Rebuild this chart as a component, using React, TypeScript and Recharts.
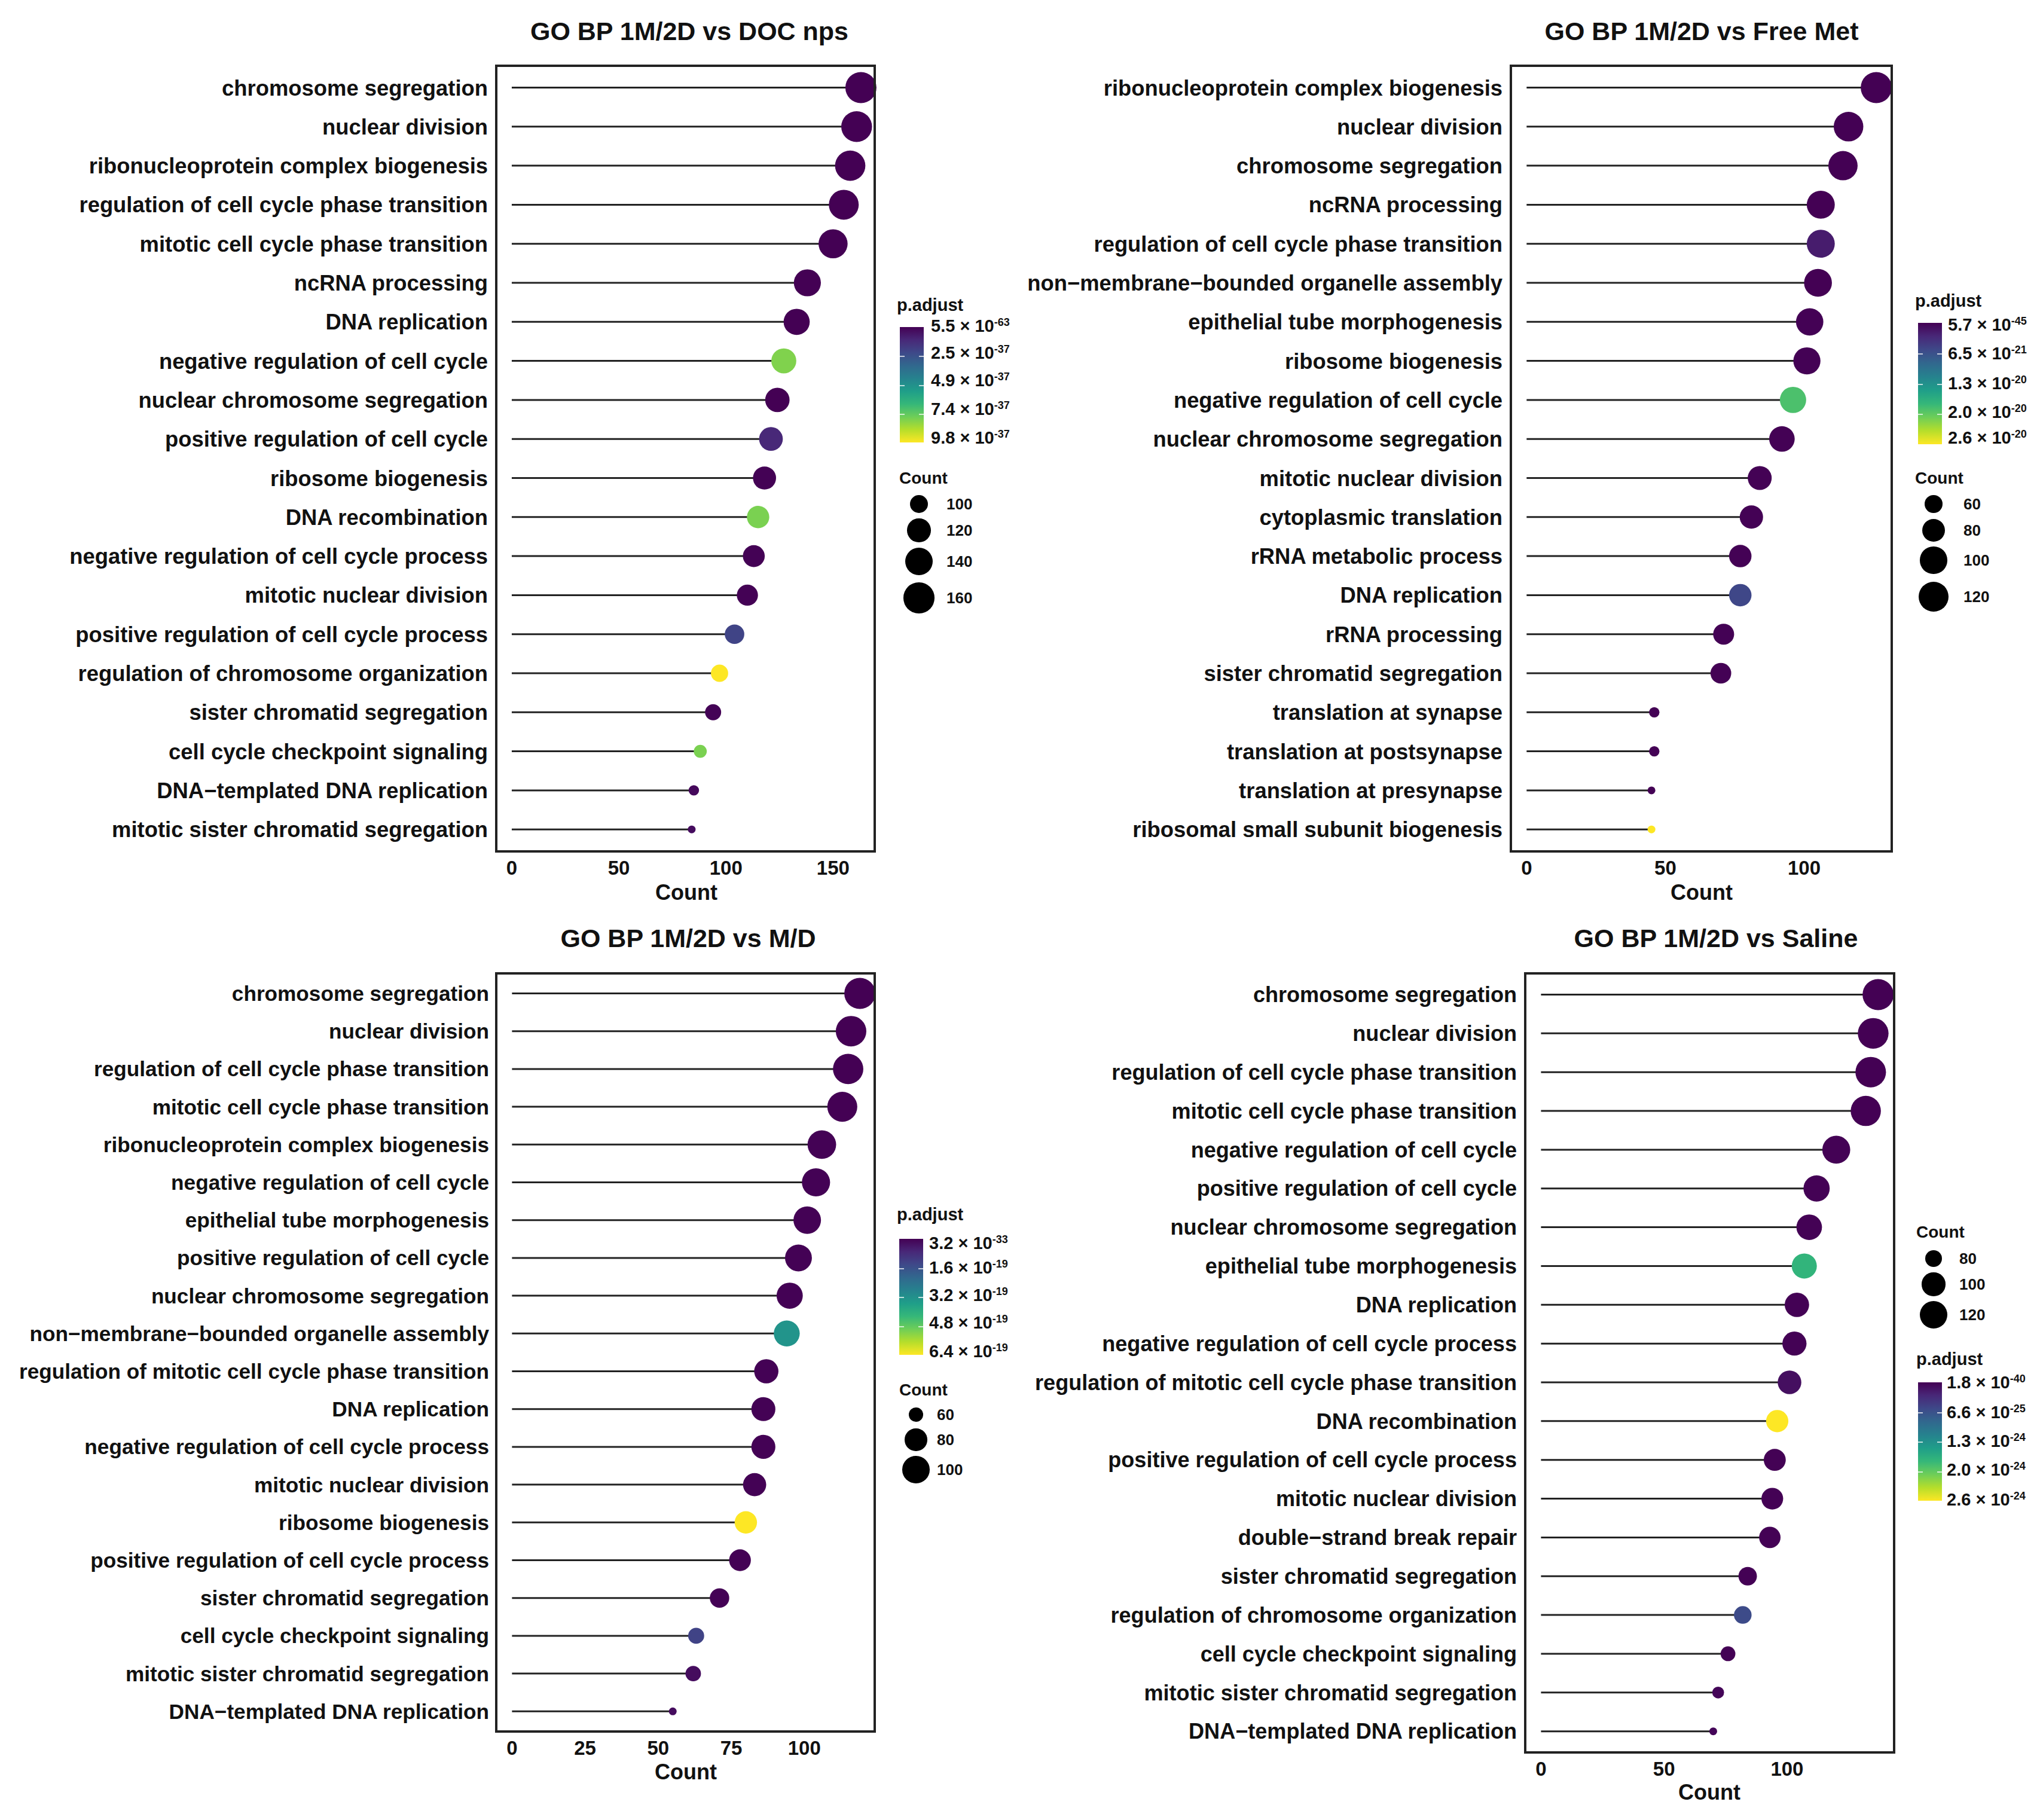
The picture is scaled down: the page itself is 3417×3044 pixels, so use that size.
import React from 'react';
import { BarChart, Bar, XAxis, YAxis } from 'recharts';

const FONT = '"Liberation Sans", Arial, sans-serif';
const VIRIDIS = ['#440154', '#482878', '#3e4989', '#31688e', '#26828e', '#1f9e89', '#35b779', '#6ece58', '#b5de2b', '#fde725'];

const docTerms = ['chromosome segregation', 'nuclear division', 'ribonucleoprotein complex biogenesis', 'regulation of cell cycle phase transition', 'mitotic cell cycle phase transition', 'ncRNA processing', 'DNA replication', 'negative regulation of cell cycle', 'nuclear chromosome segregation', 'positive regulation of cell cycle', 'ribosome biogenesis', 'DNA recombination', 'negative regulation of cell cycle process', 'mitotic nuclear division', 'positive regulation of cell cycle process', 'regulation of chromosome organization', 'sister chromatid segregation', 'cell cycle checkpoint signaling', 'DNA\u2212templated DNA replication', 'mitotic sister chromatid segregation'];
const docCounts = [163, 161, 158, 155, 150, 138, 133, 127, 124, 121, 118, 115, 113, 110, 104, 97, 94, 88, 85, 84];
const docPadj = [5.5e-63, 5.5e-63, 1e-39, 1e-39, 1e-39, 1e-39, 1e-39, 7.9e-37, 1e-39, 1.1e-37, 2e-39, 7.8e-37, 2e-39, 2e-39, 2e-37, 9.8e-37, 5e-39, 7.8e-37, 2e-38, 3e-38];

const metTerms = ['ribonucleoprotein complex biogenesis', 'nuclear division', 'chromosome segregation', 'ncRNA processing', 'regulation of cell cycle phase transition', 'non\u2212membrane\u2212bounded organelle assembly', 'epithelial tube morphogenesis', 'ribosome biogenesis', 'negative regulation of cell cycle', 'nuclear chromosome segregation', 'mitotic nuclear division', 'cytoplasmic translation', 'rRNA metabolic process', 'DNA replication', 'rRNA processing', 'sister chromatid segregation', 'translation at synapse', 'translation at postsynapse', 'translation at presynapse', 'ribosomal small subunit biogenesis'];
const metCounts = [126, 116, 114, 106, 106, 105, 102, 101, 96, 92, 84, 81, 77, 77, 71, 70, 46, 46, 45, 45];
const metPadj = [5.7e-45, 1e-23, 1e-23, 1e-23, 2e-21, 1e-23, 1e-22, 1e-22, 1.85e-20, 1e-22, 1e-22, 1e-22, 1e-22, 5.6e-21, 1e-22, 1e-22, 1e-22, 1e-22, 1e-22, 2.6e-20];

const mdTerms = ['chromosome segregation', 'nuclear division', 'regulation of cell cycle phase transition', 'mitotic cell cycle phase transition', 'ribonucleoprotein complex biogenesis', 'negative regulation of cell cycle', 'epithelial tube morphogenesis', 'positive regulation of cell cycle', 'nuclear chromosome segregation', 'non\u2212membrane\u2212bounded organelle assembly', 'regulation of mitotic cell cycle phase transition', 'DNA replication', 'negative regulation of cell cycle process', 'mitotic nuclear division', 'ribosome biogenesis', 'positive regulation of cell cycle process', 'sister chromatid segregation', 'cell cycle checkpoint signaling', 'mitotic sister chromatid segregation', 'DNA\u2212templated DNA replication'];
const mdCounts = [119, 116, 115, 113, 106, 104, 101, 98, 95, 94, 87, 86, 86, 83, 80, 78, 71, 63, 62, 55];
const mdPadj = [3.2e-33, 1e-22, 1e-22, 1e-22, 1e-21, 1e-21, 1e-21, 1e-21, 1e-21, 3.3e-19, 1e-21, 1e-21, 1e-21, 1e-21, 6.4e-19, 1e-21, 1e-21, 1.3e-19, 2e-20, 2e-20];

const salineTerms = ['chromosome segregation', 'nuclear division', 'regulation of cell cycle phase transition', 'mitotic cell cycle phase transition', 'negative regulation of cell cycle', 'positive regulation of cell cycle', 'nuclear chromosome segregation', 'epithelial tube morphogenesis', 'DNA replication', 'negative regulation of cell cycle process', 'regulation of mitotic cell cycle phase transition', 'DNA recombination', 'positive regulation of cell cycle process', 'mitotic nuclear division', 'double\u2212strand break repair', 'sister chromatid segregation', 'regulation of chromosome organization', 'cell cycle checkpoint signaling', 'mitotic sister chromatid segregation', 'DNA\u2212templated DNA replication'];
const salineCounts = [137, 135, 134, 132, 120, 112, 109, 107, 104, 103, 101, 96, 95, 94, 93, 84, 82, 76, 72, 70];
const salinePadj = [1.8e-40, 1e-27, 1e-27, 1e-27, 1e-26, 1e-26, 1e-26, 1.7e-24, 1e-26, 1e-26, 1e-25, 2.6e-24, 1e-26, 1e-26, 1e-26, 1e-26, 6e-25, 1e-26, 3e-26, 3e-26];

const docTicks = [0, 50, 100, 150];
const metTicks = [0, 50, 100];
const mdTicks = [0, 25, 50, 75, 100];
const salineTicks = [0, 50, 100];

const docSizes = [100, 120, 140, 160];
const metSizes = [60, 80, 100, 120];
const mdSizes = [60, 80, 100];
const salineSizes = [80, 100, 120];

const docLabels = [['5.5', '-63'], ['2.5', '-37'], ['4.9', '-37'], ['7.4', '-37'], ['9.8', '-37']];
const metLabels = [['5.7', '-45'], ['6.5', '-21'], ['1.3', '-20'], ['2.0', '-20'], ['2.6', '-20']];
const mdLabels = [['3.2', '-33'], ['1.6', '-19'], ['3.2', '-19'], ['4.8', '-19'], ['6.4', '-19']];
const salineLabels = [['1.8', '-40'], ['6.6', '-25'], ['1.3', '-24'], ['2.0', '-24'], ['2.6', '-24']];

const panels = [
  {
    title: 'GO BP 1M/2D vs DOC nps', titleX: 1153, titleY: 52, terms: docTerms, counts: docCounts, padj: docPadj, ticks: docTicks,
    domain: [-7.8, 170], box: [828, 108, 1465, 1426], chartLeft: 0, rowPad: 6, labelSize: 36.4, labelGap: 12, sizes: docSizes, labels: docLabels,
    pMax: 9.8e-37, countX: 1148, countY: 1493,
    colorbar: { titleX: 1500, titleY: 510, x: 1505, w: 40, top: 547, h: 193, labelX: 1557, ys: [545, 590, 636, 684, 732] },
    legend: { titleX: 1504, titleY: 800, cx: 1537, ys: [843, 887, 939, 1000], labelX: 1583 },
  },
  {
    title: 'GO BP 1M/2D vs Free Met', titleX: 2846, titleY: 52, terms: metTerms, counts: metCounts, padj: metPadj, ticks: metTicks,
    domain: [-6.1, 132], box: [2525, 108, 3166, 1426], chartLeft: 1700, rowPad: 6, labelSize: 36.4, labelGap: 12, sizes: metSizes, labels: metLabels,
    pMax: 2.6e-20, countX: 2846, countY: 1493,
    colorbar: { titleX: 3203, titleY: 503, x: 3208, w: 40, top: 540, h: 203, labelX: 3258, ys: [543, 591, 641, 689, 732] },
    legend: { titleX: 3203, titleY: 800, cx: 3234, ys: [843, 887, 937, 998], labelX: 3284 },
  },
  {
    title: 'GO BP 1M/2D vs M/D', titleX: 1151, titleY: 1569, terms: mdTerms, counts: mdCounts, padj: mdPadj, ticks: mdTicks,
    domain: [-5.8, 124.5], box: [828, 1626, 1465, 2898], chartLeft: 0, rowPad: 4, labelSize: 35.2, labelGap: 10, sizes: mdSizes, labels: mdLabels,
    pMax: 6.4e-19, countX: 1147, countY: 2964,
    colorbar: { titleX: 1500, titleY: 2031, x: 1504, w: 40, top: 2072, h: 194, labelX: 1554, ys: [2079, 2120, 2166, 2212, 2260] },
    legend: { titleX: 1504, titleY: 2325, cx: 1532, ys: [2366, 2408, 2458], labelX: 1567 },
  },
  {
    title: 'GO BP 1M/2D vs Saline', titleX: 2870, titleY: 1569, terms: salineTerms, counts: salineCounts, padj: salinePadj, ticks: salineTicks,
    domain: [-6.9, 144], box: [2549, 1626, 3170, 2933], chartLeft: 1700, rowPad: 5, labelSize: 36.1, labelGap: 12, sizes: salineSizes, labels: salineLabels,
    pMax: 2.6e-24, countX: 2859, countY: 2998,
    colorbar: { titleX: 3205, titleY: 2273, x: 3208, w: 40, top: 2312, h: 198, labelX: 3256, ys: [2312, 2362, 2410, 2458, 2508] },
    legend: { titleX: 3205, titleY: 2061, cx: 3234, ys: [2105, 2148, 2199], labelX: 3277 },
  },
];

// viridis lookup, t in 0..1
const viridis = (t: number) => {
  const p = Math.max(0, Math.min(1, t)) * (VIRIDIS.length - 1);
  const i = Math.min(Math.floor(p), VIRIDIS.length - 2);
  const f = p - i;
  const a = parseInt(VIRIDIS[i].slice(1), 16);
  const b = parseInt(VIRIDIS[i + 1].slice(1), 16);
  const mix = (s: number) => Math.round(((a >> s) & 255) * (1 - f) + ((b >> s) & 255) * f);
  return `rgb(${mix(16)},${mix(8)},${mix(0)})`;
};

// ggplot style area scale between the smallest and largest count
const sizeScale = (counts: number[]) => {
  const lo = Math.min(...counts);
  const hi = Math.max(...counts);
  return (c: number) => 13 + 39 * Math.sqrt(Math.max(0, c - lo) / (hi - lo));
};

const Lollipop = (props: any) => {
  const { x, y, width, height, payload } = props;
  const cy = y + height / 2;
  return (
    <g>
      <line x1={x} x2={x + width} y1={cy} y2={cy} stroke="#222" strokeWidth={3} />
      <circle cx={x + width} cy={cy} r={payload.diameter / 2} fill={payload.color} />
    </g>
  );
};

const abs = (x: number, y: number, extra: React.CSSProperties = {}): React.CSSProperties => ({
  position: 'absolute', left: x, top: y, fontFamily: FONT, fontWeight: 700, color: '#111', whiteSpace: 'nowrap', ...extra,
});

const Panel = ({ p }: { p: (typeof panels)[number] }) => {
  const [l, t, r, b] = p.box;
  const size = sizeScale(p.counts);
  const data = p.terms.map((term, i) => ({
    term, count: p.counts[i], diameter: size(p.counts[i]), color: viridis(p.padj[i] / p.pMax),
  }));
  const cb = p.colorbar;
  const lg = p.legend;
  return (
    <>
      <div style={abs(p.titleX, p.titleY, { fontSize: 43, transform: 'translate(-50%,-50%)' })}>{p.title}</div>
      <div style={{ position: 'absolute', left: p.chartLeft, top: t }}>
        <BarChart layout="vertical" width={r - p.chartLeft + 30} height={b - t + 60} data={data}
          margin={{ top: 0, right: 30, bottom: 0, left: 0 }} barCategoryGap={0}>
          <XAxis type="number" dataKey="count" domain={p.domain} ticks={p.ticks} height={60} axisLine={false}
            interval={0} tickSize={6} tickMargin={8} tickLine={false}
            tick={{ fontFamily: FONT, fontWeight: 700, fontSize: 33, fill: '#111' }} />
          <YAxis type="category" dataKey="term" width={l - p.chartLeft} interval={0} axisLine={false} tickLine={false}
            tickMargin={p.labelGap} tickSize={0} padding={{ top: p.rowPad, bottom: p.rowPad }}
            tick={{ fontFamily: FONT, fontWeight: 700, fontSize: p.labelSize, fill: '#111' }} />
          <Bar dataKey="count" barSize={3} shape={<Lollipop />} isAnimationActive={false} />
        </BarChart>
      </div>
      <div style={{ position: 'absolute', left: l, top: t, width: r - l, height: b - t, border: '4px solid #222', boxSizing: 'border-box', pointerEvents: 'none' }} />
      <div style={abs(p.countX, p.countY, { fontSize: 36, transform: 'translate(-50%,-50%)' })}>Count</div>

      <div style={abs(cb.titleX, cb.titleY, { fontSize: 29, transform: 'translateY(-50%)' })}>p.adjust</div>
      <div style={{ position: 'absolute', left: cb.x, top: cb.top, width: cb.w, height: cb.h, background: `linear-gradient(to bottom, ${VIRIDIS.join(',')})` }}>
        {[0.25, 0.5, 0.75].map((f) => (
          <React.Fragment key={f}>
            <div style={{ position: 'absolute', left: 0, top: f * cb.h, width: 8, height: 2, background: 'rgba(255,255,255,.7)' }} />
            <div style={{ position: 'absolute', right: 0, top: f * cb.h, width: 8, height: 2, background: 'rgba(255,255,255,.7)' }} />
          </React.Fragment>
        ))}
      </div>
      {p.labels.map(([m, e], i) => (
        <div key={i} style={abs(cb.labelX, cb.ys[i], { fontSize: 29, transform: 'translateY(-50%)' })}>
          {m} {'\u00d7'} 10<span style={{ fontSize: 18, verticalAlign: 10, lineHeight: 0 }}>{e}</span>
        </div>
      ))}

      <div style={abs(lg.titleX, lg.titleY, { fontSize: 28, transform: 'translateY(-50%)' })}>Count</div>
      {p.sizes.map((c, i) => (
        <React.Fragment key={c}>
          <div style={{ position: 'absolute', left: lg.cx - size(c) / 2, top: lg.ys[i] - size(c) / 2, width: size(c), height: size(c), borderRadius: '50%', background: '#000' }} />
          <div style={abs(lg.labelX, lg.ys[i], { fontSize: 26, transform: 'translateY(-50%)' })}>{c}</div>
        </React.Fragment>
      ))}
    </>
  );
};

export default function App() {
  return (
    <div style={{ position: 'absolute', left: 0, top: 0, width: 3417, height: 3044, background: '#fff', overflow: 'hidden' }}>
      {panels.map((p) => (
        <Panel key={p.title} p={p} />
      ))}
    </div>
  );
}
